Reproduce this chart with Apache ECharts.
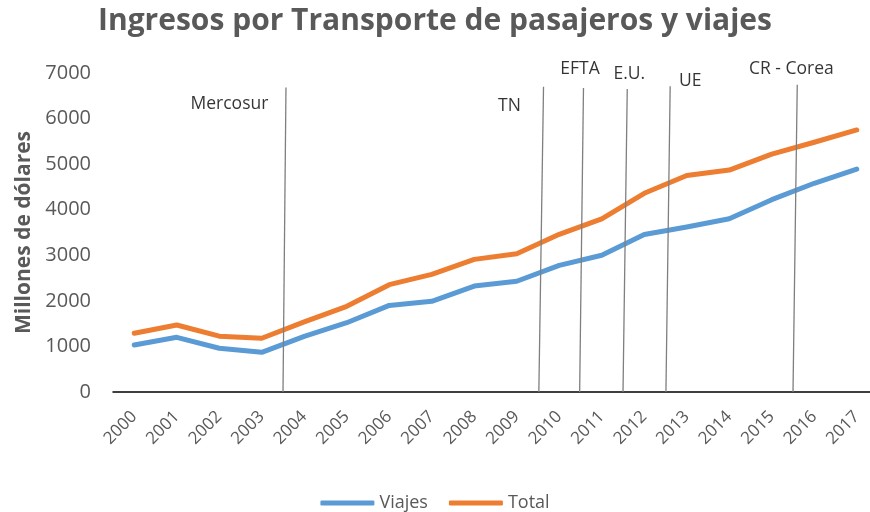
<!DOCTYPE html>
<html>
<head>
<meta charset="utf-8">
<script src="https://cdn.jsdelivr.net/npm/echarts@6/dist/echarts.min.js"></script>
<style>
  html, body { margin: 0; padding: 0; background: #fff; }
  #chart { width: 870px; height: 512px; }
</style>
</head>
<body>
<div id="chart"></div>
<script>
// datos
var years = ['2000','2001','2002','2003','2004','2005','2006','2007','2008','2009',
             '2010','2011','2012','2013','2014','2015','2016','2017'];
var viajes = [1030, 1200, 960, 870, 1220, 1520, 1900, 1990, 2325, 2430,
              2780, 3000, 3455, 3620, 3800, 4220, 4580, 4890];
var total  = [1290, 1470, 1225, 1180, 1540, 1880, 2355, 2580, 2910, 3035,
              3460, 3800, 4360, 4750, 4870, 5220, 5480, 5750];

// acuerdos comerciales (lineas verticales)
var acuerdos   = ['Mercosur', 'TN', 'EFTA', 'E.U.', 'UE', 'CR - Corea'];
var acuerdoIni = [4.0, 10.02, 10.98, 12.0, 13.01, 16.0];   // en el eje, posicion de la base
var acuerdoFin = [4.07, 10.13, 11.07, 12.1, 13.11, 16.1];  // posicion arriba
var acuerdoTop = [6680, 6700, 6670, 6650, 6710, 6740];
// donde va el texto de cada acuerdo
var textoX = [2.74, 9.33, 10.99, 12.15, 13.58, 15.96];
var textoY = [6320, 6280, 7090, 6980, 6830, 7090];

var gris = '#595959';
var fuente = '"Open Sans"';

var series = [
  {
    name: 'Viajes', type: 'line', data: viajes, symbol: 'none',
    lineStyle: { width: 5, color: '#5B9BD5', cap: 'round', join: 'round' },
    itemStyle: { color: '#5B9BD5' }, z: 3
  },
  {
    name: 'Total', type: 'line', data: total, symbol: 'none',
    lineStyle: { width: 5, color: '#ED7D31', cap: 'round', join: 'round' },
    itemStyle: { color: '#ED7D31' }, z: 3
  }
];

// una serie por cada linea de acuerdo
for (var i = 0; i < acuerdos.length; i++) {
  series.push({
    name: 'ac' + i, type: 'line', xAxisIndex: 1, symbol: 'none', silent: true,
    data: [[acuerdoIni[i], 0], [acuerdoFin[i], acuerdoTop[i]]],
    lineStyle: { width: 1.3, color: '#7f7f7f' }, z: 4, clip: false
  });
}

var textos = [];
for (var j = 0; j < acuerdos.length; j++) {
  textos.push({ value: [textoX[j], textoY[j]], nombre: acuerdos[j] });
}
series.push({
  name: 'textos', type: 'scatter', xAxisIndex: 1, symbolSize: 0, silent: true, clip: false,
  data: textos,
  label: {
    show: true, position: 'inside', color: '#000', fontSize: 17.5, fontFamily: fuente,
    formatter: function (p) { return p.data.nombre; }
  }
});

var chart = echarts.init(document.getElementById('chart'));
chart.setOption({
  animation: false,
  title: {
    text: 'Ingresos por Transporte de pasajeros y viajes',
    left: 'center', top: 1,
    textStyle: { color: gris, fontSize: 30, fontWeight: 'bold', fontFamily: fuente }
  },
  legend: {
    data: ['Viajes', 'Total'], bottom: -5, left: 'center',
    icon: 'roundRect', itemWidth: 54, itemHeight: 5, itemGap: 21,
    textStyle: { color: gris, fontSize: 18, fontFamily: fuente }
  },
  // el grafico original sale cortado a la derecha
  grid: { left: 113, width: 765, top: 73, bottom: 120, outerBoundsMode: 'none' },
  xAxis: [
    {
      type: 'category', data: years, boundaryGap: true,
      axisLine: { lineStyle: { color: '#000', width: 1.5 } },
      axisTick: { inside: true, length: 6, lineStyle: { color: '#000', width: 1.5 } },
      axisLabel: { rotate: 45, margin: 22, color: gris, fontSize: 17, fontFamily: fuente }
    },
    { type: 'value', min: 0, max: 18, show: false }
  ],
  yAxis: {
    type: 'value', min: 0, max: 7000, interval: 1000,
    name: 'Millones de dólares', nameLocation: 'middle', nameRotate: 90, nameGap: 78,
    nameTextStyle: { color: gris, fontSize: 21, fontWeight: 'bold', fontFamily: fuente },
    axisLine: { show: false }, axisTick: { show: false }, splitLine: { show: false },
    axisLabel: {
      color: gris, fontSize: 20, margin: 22, fontFamily: fuente,
      formatter: function (v) { return String(v); }
    }
  },
  series: series
});
</script>
</body>
</html>
